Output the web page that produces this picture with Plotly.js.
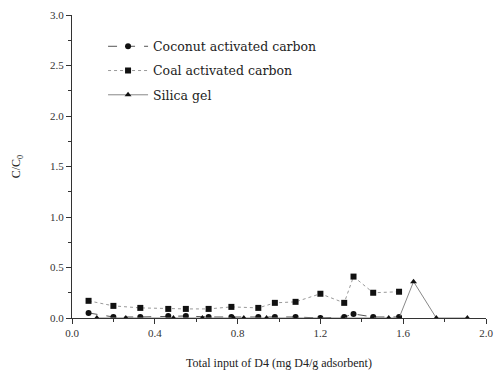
<!DOCTYPE html>
<html>
<head>
<meta charset="utf-8">
<script src="https://cdn.plot.ly/plotly-3.0.1.min.js"></script>
<style>html,body{margin:0;padding:0;background:#fff;}#chart{width:503px;height:380px;}</style>
</head>
<body>
<div id="chart"></div>
<script>
var coconutX = [0.08,0.20,0.33,0.465,0.55,0.66,0.77,0.90,0.98,1.08,1.20,1.315,1.36,1.455,1.58];
var coconutY = [0.05,0.01,0.01,0.02,0.02,0.01,0.01,0.01,0.01,0.01,0.0,0.01,0.04,0.01,0.01];
var coalX = [0.08,0.20,0.33,0.465,0.55,0.66,0.77,0.90,0.98,1.08,1.20,1.315,1.36,1.455,1.58];
var coalY = [0.17,0.12,0.10,0.09,0.09,0.09,0.11,0.10,0.15,0.16,0.24,0.15,0.41,0.25,0.26];
var silicaX = [0.12,0.26,0.49,0.63,0.78,0.83,0.94,1.08,1.20,1.31,1.45,1.53,1.58,1.65,1.76,1.91];
var silicaY = [0,0,0,0,0,0,0,0,0,0,0,0,0,0.36,0,0];
var names = ["Coconut activated carbon","Coal activated carbon","Silica gel"];

var serif = "Liberation Serif";
var traces = [
  {x:coconutX, y:coconutY, name:names[0], legendgroup:"a", mode:"lines+markers", type:"scatter",
   line:{color:"#555", width:1, dash:"dash"}, marker:{symbol:"circle", size:6, color:"#111"}},
  {x:coalX, y:coalY, name:names[1], legendgroup:"b", mode:"lines+markers", type:"scatter",
   line:{color:"#999", width:1, dash:"dot"}, marker:{symbol:"square", size:6, color:"#111"}},
  {x:silicaX, y:silicaY, name:names[2], legendgroup:"c", mode:"lines+markers", type:"scatter",
   line:{color:"#888", width:1}, marker:{symbol:"triangle-up", size:6, color:"#111"}}
];
var layout = {
  width:503, height:380,
  margin:{l:72, r:17, t:15, b:62},
  paper_bgcolor:"#fff", plot_bgcolor:"#fff",
  font:{family:serif, color:"#222", size:12},
  showlegend:true,
  legend:{x:0.075, y:0.945, xanchor:"left", yanchor:"top", bgcolor:"rgba(0,0,0,0)",
          font:{family:"DejaVu Serif", size:12.5, color:"#222"}, tracegroupgap:5, itemwidth:40},
  xaxis:{range:[0,2.0], dtick:0.4, tick0:0, tickformat:".1f", showgrid:false, zeroline:false,
         showline:true, linecolor:"#333", linewidth:1, ticks:"outside", ticklen:5, tickcolor:"#333",
         minor:{dtick:0.2, ticks:"outside", ticklen:3, tickcolor:"#333"},
         tickfont:{family:serif, size:11, color:"#333"},
         title:{text:"Total input of D4 (mg D4/g adsorbent)", font:{family:serif, size:12, color:"#222"}, standoff:20}},
  yaxis:{range:[0,3.0], dtick:0.5, tick0:0, tickformat:".1f", showgrid:false, zeroline:false,
         showline:true, linecolor:"#333", linewidth:1, ticks:"outside", ticklen:5, tickcolor:"#333",
         minor:{dtick:0.25, ticks:"outside", ticklen:3, tickcolor:"#333"},
         tickfont:{family:serif, size:11, color:"#333"},
         title:{text:"C/C<sub>0</sub>", font:{family:serif, size:12, color:"#222"}, standoff:26}}
};
Plotly.newPlot("chart", traces, layout, {displayModeBar:false, staticPlot:true});
</script>
</body>
</html>
